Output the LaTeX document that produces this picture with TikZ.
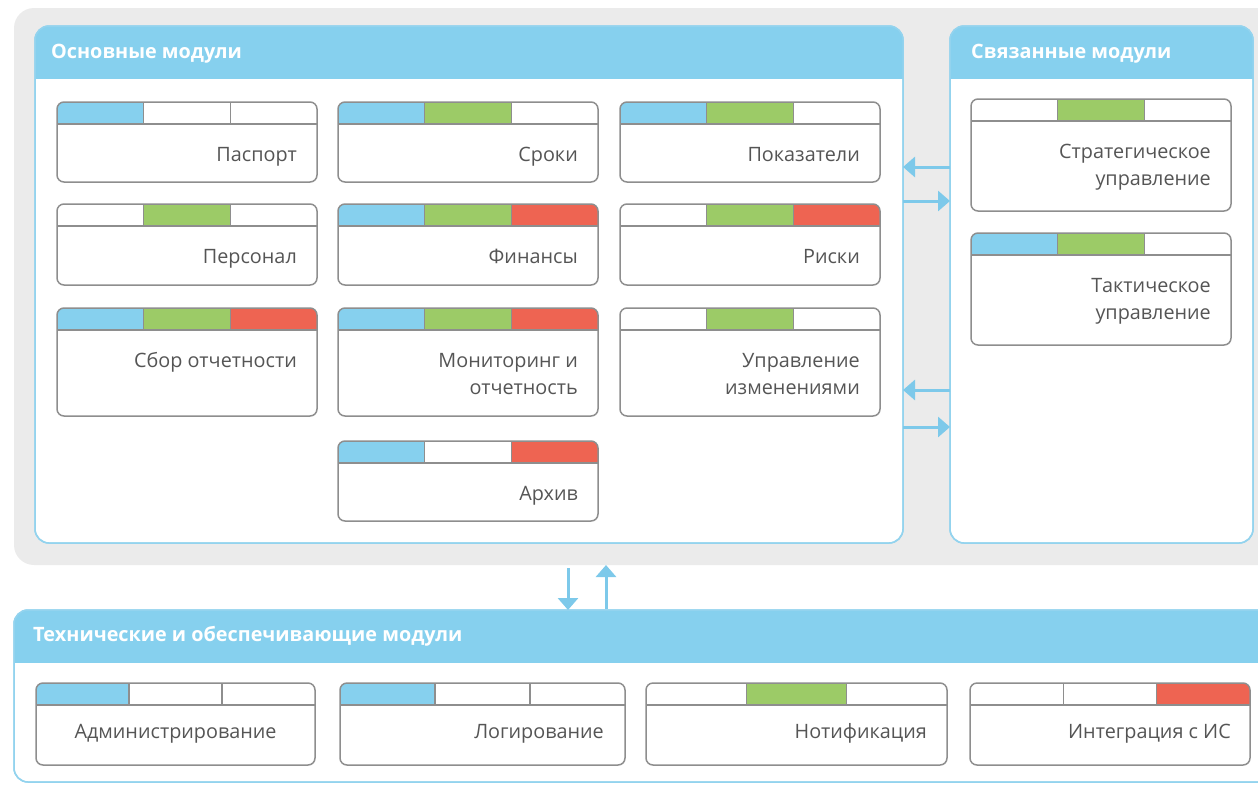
\documentclass[tikz,border=0pt]{standalone}
\usepackage{fontspec}
\setmainfont{Open Sans}
\usepackage{tikz}
\usetikzlibrary{calc, positioning, arrows.meta}

\definecolor{SkyBand}{HTML}{86D0EE}
\definecolor{SkyLine}{HTML}{93D3EE}
\definecolor{SkyArrow}{HTML}{7DC9EA}
\definecolor{GreenTab}{HTML}{9CCB67}
\definecolor{RedTab}{HTML}{EE6452}
\definecolor{BackGray}{HTML}{EBEBEB}
\definecolor{BoxLine}{HTML}{8E8E8E}
\definecolor{TextGray}{HTML}{555555}

\tikzset{
  panel/.style={draw=SkyLine, line width=1.5pt, fill=white, rounded corners=14pt,
    inner sep=0, outer sep=0, anchor=north west},
  modbox/.style={draw=BoxLine, line width=1.5pt, rounded corners=7pt, minimum width=260,
    inner sep=0, outer sep=0, anchor=north west},
  tabline/.style={draw=BoxLine, line width=1.2pt},
  modtext/.style={inner sep=0, align=right, text=TextGray, font=\fontsize{19.8}{26.5}\selectfont},
  hdrtext/.style={inner sep=0, anchor=west, text=white, font=\bfseries\fontsize{19.8}{22}\selectfont},
  flow/.style={draw=SkyArrow, line width=3pt, -{Triangle[width=20pt,length=12pt]}}
}

\begin{document}
\begin{tikzpicture}[x=1pt, y=-1pt]
    \useasboundingbox (0,0) rectangle (1258,785);
    \clip (0,0) rectangle (1258,785);

    % grey backdrop and the three panels
    \node[fill=BackGray, rounded corners=20pt, inner sep=0, outer sep=0, anchor=north west,
      minimum width=1300, minimum height=557] (back) at (14,8) {};
    \node[panel, minimum width=868, minimum height=517] (main) at (35,26) {};
    \node[panel, minimum width=303, minimum height=517] (side) at (950,26) {};
    \node[panel, minimum width=1300, minimum height=172] (tech) at (14,610) {};

    \foreach \pn in {main, side, tech}{
        \begin{scope}
            \clip[rounded corners=14pt] (\pn.north west) rectangle (\pn.south east);
            \fill[SkyBand] (\pn.north west) rectangle ($(\pn.north east)+(0,53)$);
        \end{scope}
        \draw[SkyLine, line width=1.5pt, rounded corners=14pt] (\pn.north west) rectangle (\pn.south east);
    }

    \node[hdrtext] (mainT) at (51,54) {Основные модули};
    \node[hdrtext] (sideT) at (971,54) {Связанные модули};
    \node[hdrtext] (techT) at (33,636) {Технические и обеспечивающие модули};

    % modules of the upper panels
    \foreach \nm/\x/\y/\h/\ca/\cb/\cc/\txt in {
        pas/57/102/80/SkyBand/white/white/{Паспорт},
        srk/338/102/80/SkyBand/GreenTab/white/{Сроки},
        pok/620/102/80/SkyBand/GreenTab/white/{Показатели},
        per/57/204/81/white/GreenTab/white/{Персонал},
        fin/338/204/81/SkyBand/GreenTab/RedTab/{Финансы},
        rsk/620/204/81/white/GreenTab/RedTab/{Риски},
        sbr/57/308/108/SkyBand/GreenTab/RedTab/{Сбор отчетности},
        mon/338/308/108/SkyBand/GreenTab/RedTab/{Мониторинг и\\отчетность},
        upr/620/308/108/white/GreenTab/white/{Управление\\изменениями},
        arh/338/441/80/SkyBand/white/RedTab/{Архив},
        str/971/99/112/white/GreenTab/white/{Стратегическое\\управление},
        tak/971/233/112/SkyBand/GreenTab/white/{Тактическое\\управление}}{
        \begin{scope}
            \clip[rounded corners=7pt] (\x,\y) rectangle +(260,\h);
            \fill[\ca] (\x,\y) rectangle +(86.67,22);
            \fill[\cb] (\x+86.67,\y) rectangle +(86.67,22);
            \fill[\cc] (\x+173.33,\y) rectangle +(86.67,22);
        \end{scope}
        \draw[tabline] (\x+86.67,\y) -- +(0,22) (\x+173.33,\y) -- +(0,22);
        \draw[tabline] (\x,\y+22) -- +(260,0);
        \node[modbox, minimum height=\h] (\nm) at (\x,\y) {};
        \node[modtext, anchor=north east] (\nm-t) at (\x+240,\y+41) {\strut\txt};
    }

    % modules of the lower panel
    \foreach \nm/\x/\w/\ca/\cb/\cc/\an/\tx/\txt in {
        adm/36/279/SkyBand/white/white/north/175.5/{Администрирование},
        log/340/285/SkyBand/white/white/north east/604/{Логирование},
        ntf/646/301/white/GreenTab/white/north east/927/{Нотификация},
        int/970/280/white/white/RedTab/north east/1231/{Интеграция с ИС}}{
        \begin{scope}
            \clip[rounded corners=7pt] (\x,683) rectangle +(\w,82);
            \fill[\ca] (\x,683) rectangle +(\w/3,22);
            \fill[\cb] (\x+\w/3,683) rectangle +(\w/3,22);
            \fill[\cc] (\x+2*\w/3,683) rectangle +(\w/3,22);
        \end{scope}
        \draw[tabline] (\x+\w/3,683) -- +(0,22) (\x+2*\w/3,683) -- +(0,22);
        \draw[tabline] (\x,705) -- +(\w,0);
        \node[modbox, minimum width=\w, minimum height=82] (\nm) at (\x,683) {};
        \node[modtext, anchor=\an] (\nm-t) at (\tx,720) {\strut\txt};
    }

    % links between the panels
    \draw[flow] (side.west |- 0,167) -- (main.east |- 0,167);
    \draw[flow] (main.east |- 0,201) -- (side.west |- 0,201);
    \draw[flow] (side.west |- 0,390) -- (main.east |- 0,390);
    \draw[flow] (main.east |- 0,427) -- (side.west |- 0,427);
    \draw[flow, shorten <=3pt] (back.south -| 568,0) -- (tech.north -| 568,0);
    \draw[flow, shorten <=1pt] (tech.north -| 606,0) -- (back.south -| 606,0);
\end{tikzpicture}
\end{document}
